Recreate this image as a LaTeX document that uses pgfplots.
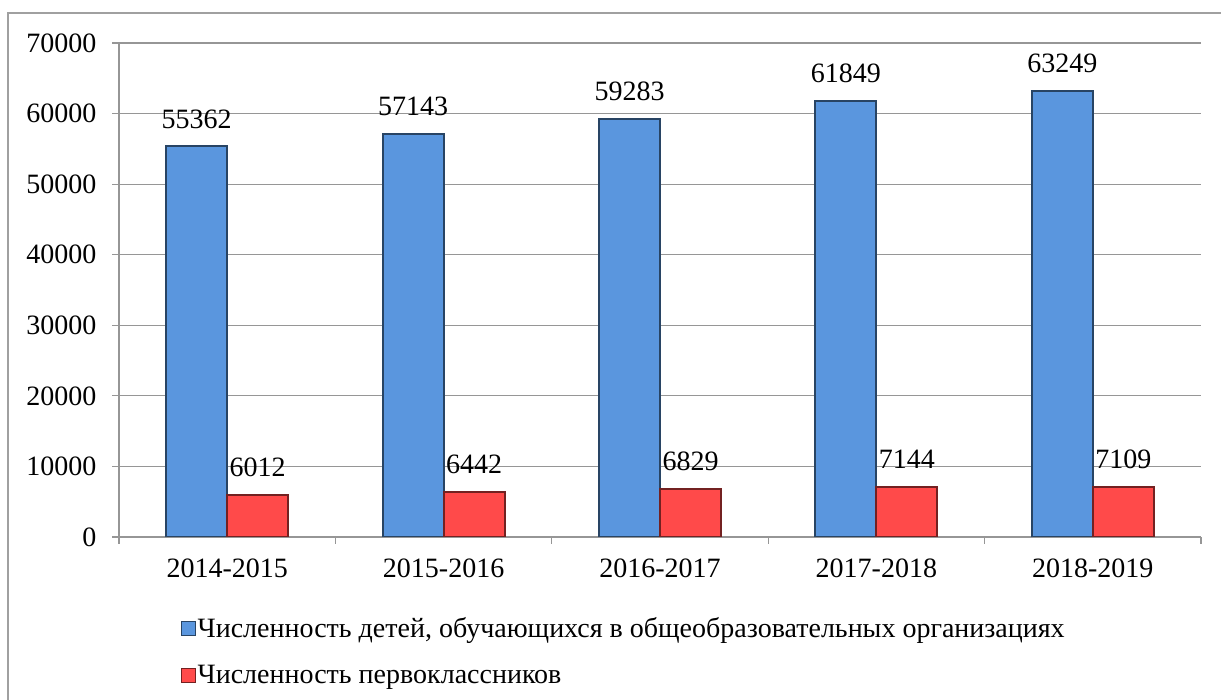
\documentclass[border=0pt]{standalone}
\usepackage{fontspec}
\setmainfont{Liberation Serif}
\usepackage{pgfplots}
\pgfplotsset{compat=1.18}
\definecolor{barblue}{RGB}{90,150,222}
\definecolor{barred}{RGB}{255,74,74}
\definecolor{gridgray}{RGB}{150,150,150}
\newcommand\cf{\fontsize{28}{33}\selectfont}
\begin{document}
\begin{tikzpicture}[x=1pt,y=1pt]
\useasboundingbox (0,0) rectangle (1221,700);
\fill[white] (0,0) rectangle (1221,700);
\draw[gridgray!90, line width=1.5pt] (8,0) -- (8,687) -- (1221,687);
\begin{axis}[
  at={(119pt,163pt)}, anchor=south west,
  scale only axis, width=1082pt, height=494pt,
  ybar=0pt, bar width=61pt,
  xmin=-0.5, xmax=4.5, ymin=0, ymax=70000,
  xtick={-0.5,0.5,1.5,2.5,3.5,4.5},
  xticklabels={2014-2015,2015-2016,2016-2017,2017-2018,2018-2019},
  x tick label as interval,
  ytick={0,10000,...,70000},
  scaled y ticks=false,
  axis lines=left, axis line style={-, gridgray, line width=1.2pt},
  ymajorgrids, grid style={gridgray, line width=1.2pt},
  tick align=outside, major tick length=7pt,
  tick style={gridgray, line width=1.2pt},
  /pgf/number format/1000 sep={},
  /pgf/number format/assume math mode=true,
  ticklabel style={font=\cf},
  yticklabel style={xshift=-12pt},
  xticklabel style={yshift=-11pt},
  nodes near coords,
  nodes near coords style={font=\cf, anchor=south, inner sep=0pt, yshift=17pt, black},
  legend style={at={(axis description cs:0.054,-0.155)}, anchor=north west,
    draw=none, fill=none, font=\cf, row sep=22pt, legend cell align=left},
  legend cell align=left,
  legend image code/.code={\draw[#1, line width=1pt] (0pt,-7pt) rectangle (14pt,7pt);},
]
\addplot[fill=barblue, draw=barblue!45!black, line width=2pt] coordinates {(0,55362) (1,57143) (2,59283) (3,61849) (4,63249)};
\addplot[fill=barred, draw=barred!45!black, line width=2pt] coordinates {(0,6012) (1,6442) (2,6829) (3,7144) (4,7109)};
\legend{{Численность детей, обучающихся в общеобразовательных организациях}, {Численность первоклассников}}
\end{axis}
\end{tikzpicture}
\end{document}
